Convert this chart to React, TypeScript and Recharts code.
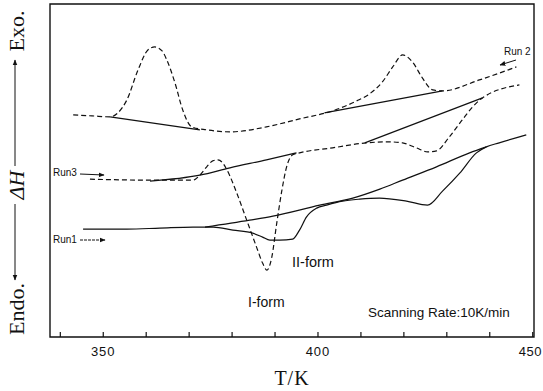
import { ComposedChart, Line, XAxis, YAxis, ReferenceArea } from 'recharts';

// DSC scans, T in K, ΔH in arbitrary units (0 = bottom of frame, 10 = top)
const run2T = [343.0, 347.4, 351.6, 353.4, 355.5, 358.1, 360.4, 362.0, 363.7, 364.8, 366.7, 368.5, 370.6, 374.1, 379.5, 388.0, 395.7, 403.4, 409.0, 412.0, 415.0, 417.4, 419.7, 422.0, 424.3, 426.7, 429.0, 437.6, 446.2];
const run2H = [6.67, 6.64, 6.61, 6.73, 7.12, 8.02, 8.62, 8.71, 8.59, 8.32, 7.63, 6.82, 6.31, 6.22, 6.16, 6.31, 6.55, 6.79, 7.09, 7.30, 7.66, 8.11, 8.47, 8.26, 7.78, 7.42, 7.39, 7.72, 8.11];

const run3T = [346.9, 360.9, 370.9, 372.5, 374.1, 375.5, 376.7, 377.8, 378.8, 381.1, 383.4, 385.7, 387.1, 388.1, 389.2, 390.4, 391.6, 392.7, 394.1, 395.7, 403.4, 411.3, 416.6, 419.7, 422.9, 425.5, 427.6, 430.6, 433.6, 436.0, 438.3, 446.9];
const run3H = [4.74, 4.71, 4.71, 4.86, 5.11, 5.29, 5.32, 5.23, 5.02, 4.32, 3.51, 2.70, 2.22, 2.01, 2.37, 3.42, 4.41, 5.11, 5.47, 5.53, 5.68, 5.83, 5.86, 5.83, 5.68, 5.56, 5.59, 6.01, 6.52, 6.91, 7.18, 7.57];

const run1T = [345.3, 355.5, 363.2, 370.9, 375.6, 380.2, 384.8, 387.1, 388.8, 391.1, 394.1, 395.7, 397.3, 399.7, 402.0, 405.7, 409.7, 414.3, 420.6, 425.5, 429.0, 433.0, 436.9, 439.2, 442.2, 448.5];
const run1H = [3.24, 3.24, 3.27, 3.30, 3.30, 3.21, 3.12, 3.00, 2.91, 2.91, 2.94, 3.21, 3.60, 3.87, 3.96, 4.08, 4.14, 4.17, 4.08, 3.96, 4.38, 4.92, 5.53, 5.71, 5.83, 6.07];

// interpolated baselines under the peaks
const base2aT = [351.6, 372.5];
const base2aH = [6.61, 6.22];
const base2bT = [401.5, 429.0];
const base2bH = [6.73, 7.39];
const base3aT = [360.9, 372.5, 379.5, 388.0, 395.0];
const base3aH = [4.68, 4.86, 5.08, 5.32, 5.53];
const base3bT = [410.9, 438.3];
const base3bH = [5.83, 7.18];
const base1T = [373.7, 384.1, 389.5, 400.4, 408.1, 414.4, 419.7, 427.6, 435.3, 439.2];
const base1H = [3.30, 3.51, 3.63, 3.96, 4.17, 4.44, 4.71, 5.11, 5.53, 5.71];

const xTicks = [340, 350, 360, 370, 380, 390, 400, 410, 420, 430, 440, 450];
const xLabels = [350, 400, 450];

const X_MIN = 337.6;
const X_MAX = 450.3;

const toRows = (t: number[], h: number[]) => t.map((v, i) => ({ t: v, h: h[i] }));

const INK = '#111';
const SANS = '"Liberation Sans", Arial, Helvetica, sans-serif';
const SERIF = '"Liberation Serif", "Times New Roman", serif';

function Tick(props: any) {
  const { x, y, payload } = props;
  const v = payload.value;
  // last label sits at the page edge, keep it inside
  const last = v === 450;
  return (
    <g>
      <line x1={x} y1={y} x2={x} y2={y - 5} stroke={INK} strokeWidth={1.2} />
      {xLabels.includes(v) && (
        <text
          x={last ? 542 : x}
          y={y + 19}
          textAnchor={last ? 'end' : 'middle'}
          fontFamily={SANS}
          fontSize={13}
          letterSpacing={last ? 0.5 : 1}
          fill={INK}
        >
          {v}
        </text>
      )}
    </g>
  );
}

export default function App() {
  const series = [
    { id: 'run2', data: toRows(run2T, run2H), dashed: true, type: 'monotone' },
    { id: 'run3', data: toRows(run3T, run3H), dashed: true, type: 'monotone' },
    { id: 'run1', data: toRows(run1T, run1H), dashed: false, type: 'monotone' },
    { id: 'b2a', data: toRows(base2aT, base2aH), dashed: false, type: 'linear' },
    { id: 'b2b', data: toRows(base2bT, base2bH), dashed: false, type: 'linear' },
    { id: 'b3a', data: toRows(base3aT, base3aH), dashed: false, type: 'monotone' },
    { id: 'b3b', data: toRows(base3bT, base3bH), dashed: false, type: 'linear' },
    { id: 'b1', data: toRows(base1T, base1H), dashed: false, type: 'monotone' },
  ];

  return (
    <div style={{ position: 'absolute', left: 0, top: 0, width: 543, height: 391, background: '#fff' }}>
      <ComposedChart width={543} height={391} margin={{ top: 4, right: 9, bottom: 24, left: 50 }}>
        <XAxis
          dataKey="t"
          type="number"
          domain={[X_MIN, X_MAX]}
          allowDataOverflow
          ticks={xTicks}
          interval={0}
          tickLine={false}
          axisLine={false}
          tickSize={0}
          tickMargin={0}
          height={30}
          tick={<Tick />}
        />
        <YAxis type="number" domain={[0, 10]} hide allowDataOverflow />
        <ReferenceArea x1={X_MIN} x2={X_MAX} y1={0} y2={10} fill="none" stroke={INK} strokeWidth={1.4} fillOpacity={0} />
        {series.map((s) => (
          <Line
            key={s.id}
            data={s.data}
            dataKey="h"
            type={s.type as any}
            stroke={INK}
            strokeWidth={1.2}
            strokeDasharray={s.dashed ? '5 3' : undefined}
            dot={false}
            activeDot={false}
            isAnimationActive={false}
          />
        ))}
      </ComposedChart>
      <svg width={543} height={391} style={{ position: 'absolute', left: 0, top: 0, pointerEvents: 'none' }}>
        <defs>
          <marker id="ah" viewBox="0 0 10 10" refX="9" refY="5" markerWidth="6" markerHeight="6" orient="auto-start-reverse">
            <path d="M0,1 L10,5 L0,9 z" fill={INK} />
          </marker>
        </defs>
        {/* y label */}
        <g fontFamily={SERIF} fontSize={22} fill={INK}>
          <text transform="translate(16,31) rotate(-90)" textAnchor="middle" dominantBaseline="central">Exo.</text>
          <text transform="translate(16,185) rotate(-90)" textAnchor="middle" dominantBaseline="central" fontStyle="italic">
            ΔH
          </text>
          <text transform="translate(16,309) rotate(-90)" textAnchor="middle" dominantBaseline="central">Endo.</text>
        </g>
        <line x1={15} y1={166} x2={15} y2={60} stroke={INK} strokeWidth={1} markerEnd="url(#ah)" />
        <line x1={15} y1={204} x2={15} y2={280} stroke={INK} strokeWidth={1} markerEnd="url(#ah)" />
        {/* x label */}
        <text x={292} y={385} textAnchor="middle" fontFamily={SERIF} fontSize={20} letterSpacing={1} fill={INK}>
          T/K
        </text>
        {/* run labels */}
        <g fontFamily={SANS} fill={INK}>
          <text x={504} y={55} fontSize={10}>Run 2</text>
          <text x={53} y={176} fontSize={10}>Run3</text>
          <text x={53} y={243} fontSize={10}>Run1</text>
          <text x={248} y={307} fontSize={14}>I-form</text>
          <text x={292} y={267} fontSize={14.5}>II-form</text>
          <text x={368} y={317} fontSize={13.5}>Scanning Rate:10K/min</text>
        </g>
        <line x1={516} y1={60} x2={500} y2={65} stroke={INK} strokeWidth={1} markerEnd="url(#ah)" />
        <line x1={80} y1={174} x2={104} y2={175} stroke={INK} strokeWidth={1} markerEnd="url(#ah)" />
        <line x1={80} y1={240} x2={105} y2={240} stroke={INK} strokeWidth={1} strokeDasharray="3 1" markerEnd="url(#ah)" />
      </svg>
    </div>
  );
}
